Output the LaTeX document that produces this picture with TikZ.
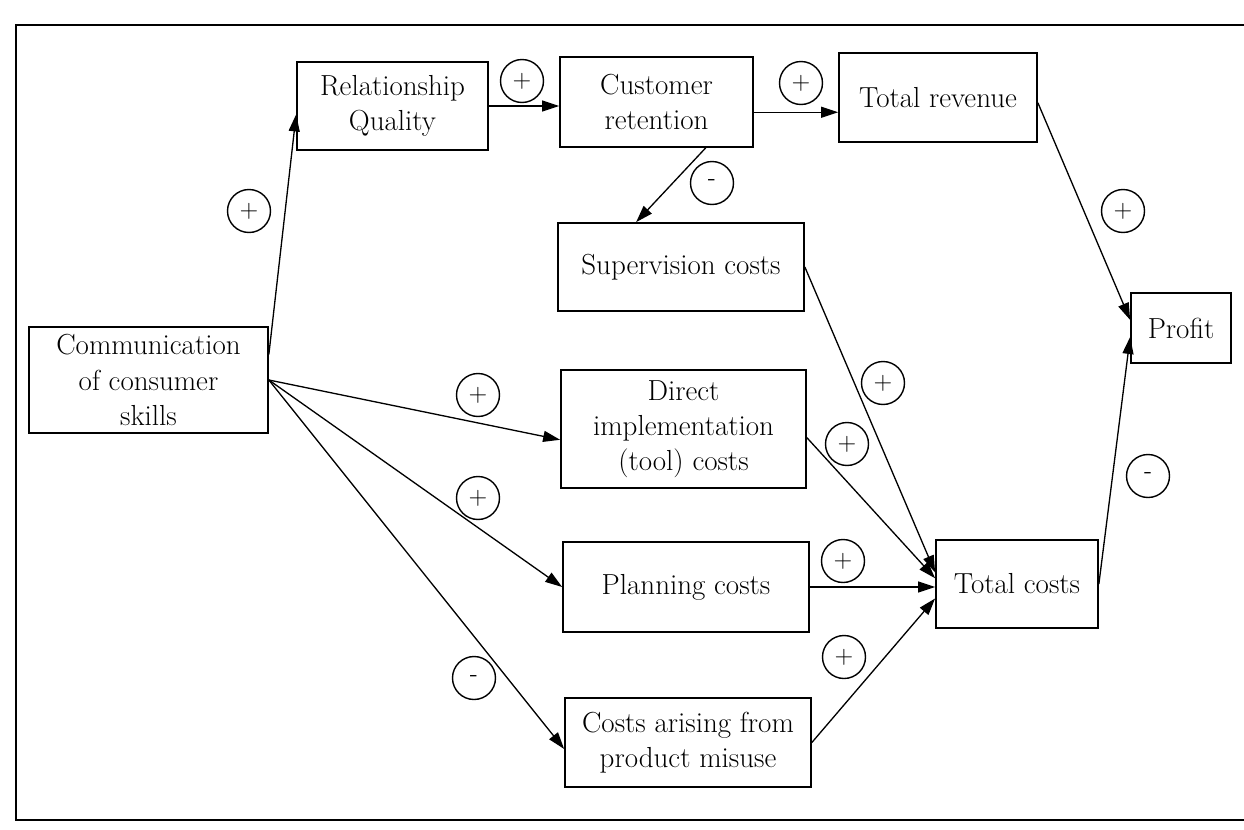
\documentclass[tikz,border=0pt]{standalone}
\usetikzlibrary{arrows.meta}
\begin{document}
\begin{tikzpicture}[x=0.02cm,y=-0.02cm,
  box/.style={draw, line width=1pt, align=center, inner sep=2pt,
    font=\fontsize{16.5}{20}\selectfont},
  sign/.style={draw, circle, line width=0.8pt, minimum size=0.86cm,
    inner sep=0pt, font=\fontsize{14}{14}\selectfont},
  link/.style={line width=0.75pt, -{Triangle[length=0.34cm,width=0.22cm]}}]
\useasboundingbox (0,0) rectangle (1244,829);

% frame
\draw[line width=1.2pt] (1244,25) -- (16,25) -- (16,820) -- (1244,820);

% boxes
\node[box, minimum width=4.78cm, minimum height=2.12cm] (comm)    at (148.5,380) {Communication\\of consumer\\skills};
\node[box, minimum width=3.82cm, minimum height=1.76cm] (relq)    at (392.5,106) {Relationship\\Quality};
\node[box, minimum width=3.86cm, minimum height=1.80cm] (custret) at (656.5,102) {Customer\\retention};
\node[box, minimum width=3.96cm, minimum height=1.78cm] (totrev)  at (938,97.5)  {Total revenue};
\node[box, minimum width=4.92cm, minimum height=1.76cm] (superv)  at (681,267)   {Supervision costs};
\node[box, minimum width=4.90cm, minimum height=2.36cm] (direct)  at (683.5,429) {Direct\\implementation\\(tool) costs};
\node[box, minimum width=4.92cm, minimum height=1.80cm] (plan)    at (686,587)   {Planning costs};
\node[box, minimum width=4.92cm, minimum height=1.78cm] (misuse)  at (688,742.5) {Costs arising from\\product misuse};
\node[box, minimum width=3.24cm, minimum height=1.76cm] (totcost) at (1017,584)  {Total costs};
\node[box, minimum width=2.00cm, minimum height=1.40cm] (profit)  at (1181,328)  {Profit};

% connectors
\draw[link] (comm.12) -- (relq.185);
\draw[link] (relq.east) -- (relq.east -| custret.west);
\draw[link] (custret.-6) -- (custret.-6 -| totrev.west);
\draw[link] (custret.-43) -- (superv.135);
\draw[link] (totrev.-3) -- (profit.171);
\draw[link] (totcost.east) -- (profit.190);
\draw[link] (superv.east) -- (totcost.172);
\draw[link] (direct.-4) -- (totcost.176);
\draw[link] (plan.east) -- (plan.east -| totcost.west);
\draw[link] (misuse.east) -- (totcost.190);
\draw[link] (comm.east) -- (direct.185);
\draw[link] (comm.east) -- (plan.west);
\draw[link] (comm.east) -- (misuse.183);

% polarity signs
\node[sign] (s1)  at (249,211)  {+};
\node[sign] (s2)  at (522,81)   {+};
\node[sign] (s3)  at (801,83)   {+};
\node[sign] (s4)  at (712,183)  {-};
\node[sign] (s5)  at (1123,211) {+};
\node[sign] (s6)  at (883,383)  {+};
\node[sign] (s7)  at (847,444)  {+};
\node[sign] (s8)  at (843,561)  {+};
\node[sign] (s9)  at (844,657)  {+};
\node[sign] (s10) at (478,395)  {+};
\node[sign] (s11) at (478,498)  {+};
\node[sign] (s12) at (474,678)  {-};
\node[sign] (s13) at (1148,476) {-};
\end{tikzpicture}
\end{document}
